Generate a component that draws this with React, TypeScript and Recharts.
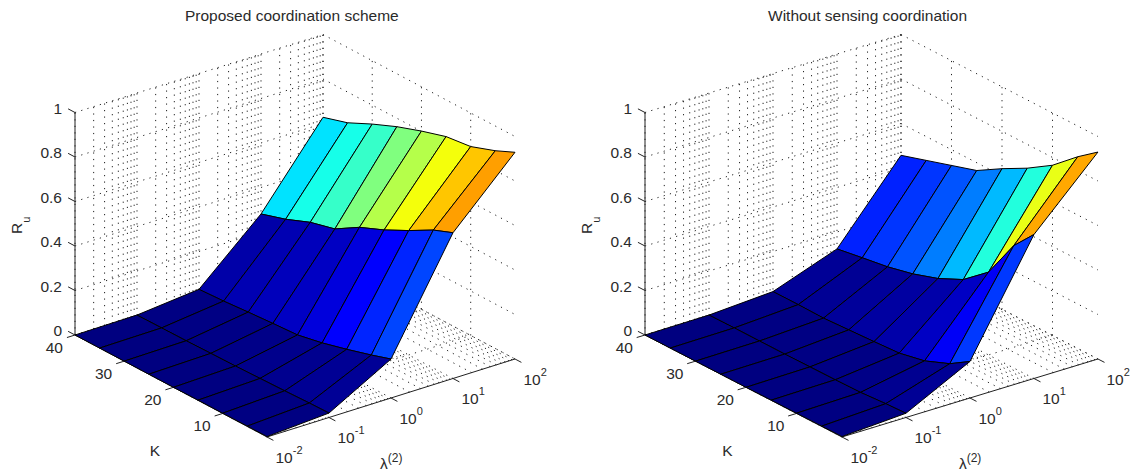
import { ScatterChart, Scatter, XAxis, YAxis, Polygon } from 'recharts';

const FONT = '"Liberation Sans", Arial, sans-serif';

// axis ticks
const lambdaExp = [-2, -1, 0, 1, 2];
const kValues = [40, 35, 30, 25, 20, 15, 10, 5, 1];
const kTicks = [40, 30, 20, 10];
const ruTicks = [0, 0.2, 0.4, 0.6, 0.8, 1];
const minorMultipliers = [2, 3, 4, 5, 6, 7, 8, 9];

// Ru per lambda decade, one value per entry of kValues
const proposedRu = [
  [0, 0, 0, 0, 0, 0.001, 0.001, 0.002, 0.002],
  [0.002, 0.003, 0.004, 0.006, 0.008, 0.011, 0.014, 0.018, 0.02],
  [0.03, 0.036, 0.045, 0.053, 0.06, 0.083, 0.113, 0.146, 0.175],
  [0.281, 0.316, 0.361, 0.39, 0.456, 0.503, 0.559, 0.62, 0.655],
  [0.628, 0.662, 0.715, 0.762, 0.801, 0.835, 0.849, 0.889, 0.929],
];

const withoutCoordRu = [
  [0, 0, 0, 0, 0, 0.001, 0.001, 0.002, 0.002],
  [0.002, 0.003, 0.003, 0.003, 0.004, 0.005, 0.007, 0.015, 0.019],
  [0.02, 0.02, 0.018, 0.024, 0.03, 0.037, 0.061, 0.107, 0.164],
  [0.124, 0.143, 0.161, 0.188, 0.226, 0.28, 0.372, 0.55, 0.647],
  [0.457, 0.493, 0.529, 0.565, 0.632, 0.693, 0.765, 0.862, 0.93],
];

// matlab jet colormap
function jet(t: number) {
  const ch = (v: number) => Math.round(255 * Math.max(0, Math.min(1, v)));
  const r = 1.5 - Math.abs(4 * t - 3);
  const g = 1.5 - Math.abs(4 * t - 2);
  const b = 1.5 - Math.abs(4 * t - 1);
  return `rgb(${ch(r)},${ch(g)},${ch(b)})`;
}

const noDot = () => <g />;

interface PanelProps {
  title: string;
  titleX: number;
  ru: number[][];
  left: number;
  width: number;
  kStep: number;
  lambdaStep: number;
}

function Panel({ title, titleX, ru, left, width, kStep, lambdaStep }: PanelProps) {
  // orthographic view, same as view(3) in the original figure
  const project = (lam: number, k: number, z: number) => ({
    x: 75 + (40 - k) * kStep + (lam + 2) * lambdaStep,
    y: 335 + (40 - k) * 2.615 - (lam + 2) * 19.5 - z * 222.5,
  });

  const lambdaGrid: number[] = [];
  lambdaExp.forEach((e) => {
    lambdaGrid.push(e);
    if (e < 2) minorMultipliers.forEach((m) => lambdaGrid.push(e + Math.log10(m)));
  });

  const dotted: { x: number; y: number }[][] = [];
  lambdaGrid.forEach((l) => {
    dotted.push([project(l, 40, 0), project(l, 40, 1)]);
    dotted.push([project(l, 1, 0), project(l, 40, 0)]);
  });
  kTicks.forEach((k) => {
    dotted.push([project(-2, k, 0), project(2, k, 0)]);
    dotted.push([project(2, k, 0), project(2, k, 1)]);
  });
  ruTicks.forEach((z) => {
    dotted.push([project(-2, 40, z), project(2, 40, z)]);
    dotted.push([project(2, 40, z), project(2, 1, z)]);
  });

  const solid = [
    [project(-2, 40, 0), project(-2, 40, 1)],
    [project(-2, 40, 0), project(-2, 1, 0)],
    [project(-2, 1, 0), project(2, 1, 0)],
    ...ruTicks.map((z) => [project(-2, 40, z), project(-2, 41.4, z)]),
    ...kTicks.map((k) => [project(-2, k, 0), project(-2.13, k, 0)]),
    ...lambdaExp.map((l) => [project(l, 1, 0), project(l, -0.3, 0)]),
  ];

  // back to front so nearer cells cover farther ones
  const colorMax = Math.max(...ru.flat()) * 0.98;
  const cells: { points: { x: number; y: number }[]; color: string }[] = [];
  for (let j = lambdaExp.length - 2; j >= 0; j--) {
    for (let i = 0; i < kValues.length - 1; i++) {
      cells.push({
        points: [
          project(lambdaExp[j], kValues[i], ru[j][i]),
          project(lambdaExp[j + 1], kValues[i], ru[j + 1][i]),
          project(lambdaExp[j + 1], kValues[i + 1], ru[j + 1][i + 1]),
          project(lambdaExp[j], kValues[i + 1], ru[j][i + 1]),
        ],
        color: jet(ru[j][i + 1] / colorMax),
      });
    }
  }

  const labelStyle = { fontFamily: FONT, fontSize: 15.5, fill: '#2a2a2a' };
  const ruLabels = ruTicks.map((z) => ({ ...project(-2, 40, z), label: String(z) }));
  const kLabels = kTicks.map((k) => ({ ...project(-2, k, 0), label: String(k) }));
  const lambdaLabels = lambdaExp.map((e) => ({ ...project(e, 1, 0), label: String(e) }));

  return (
    <div style={{ position: 'absolute', left, top: 0 }}>
      <ScatterChart width={width} height={475} margin={{ top: 0, right: 0, bottom: 0, left: 0 }}>
        <XAxis type="number" dataKey="x" domain={[0, width]} hide />
        <YAxis type="number" dataKey="y" domain={[0, 475]} reversed hide />

        {dotted.map((seg, i) => (
          <Scatter
            key={`g${i}`}
            data={seg}
            shape={noDot}
            isAnimationActive={false}
            line={{ stroke: '#222', strokeWidth: 1, strokeDasharray: '1.2 5.3' }}
          />
        ))}
        {solid.map((seg, i) => (
          <Scatter
            key={`a${i}`}
            data={seg}
            shape={noDot}
            isAnimationActive={false}
            line={{ stroke: '#222', strokeWidth: 1 }}
          />
        ))}
        {cells.map((c, i) => (
          <Scatter
            key={`c${i}`}
            data={c.points}
            shape={noDot}
            isAnimationActive={false}
            line={(p: any) => <Polygon points={p.points} fill={c.color} stroke="#000" strokeWidth={1} />}
          />
        ))}

        <Scatter
          data={ruLabels}
          isAnimationActive={false}
          shape={(p: any) => (
            <text x={p.cx - 13} y={p.cy + 1} textAnchor="end" {...labelStyle}>
              {p.payload.label}
            </text>
          )}
        />
        <Scatter
          data={kLabels}
          isAnimationActive={false}
          shape={(p: any) => (
            <text x={p.cx - 12} y={p.cy + 18} textAnchor="end" {...labelStyle}>
              {p.payload.label}
            </text>
          )}
        />
        <Scatter
          data={lambdaLabels}
          isAnimationActive={false}
          shape={(p: any) => (
            <text x={p.cx + 8.5} y={p.cy + 26} {...labelStyle}>
              10
              <tspan fontSize={11} dy={-9}>
                {p.payload.label}
              </tspan>
            </text>
          )}
        />

        <Scatter
          data={[project(-2, 20.5, 0)]}
          isAnimationActive={false}
          shape={(p: any) => (
            <text x={p.cx - 16} y={p.cy + 70} textAnchor="middle" {...labelStyle}>
              K
            </text>
          )}
        />
        <Scatter
          data={[project(0, 1, 0)]}
          isAnimationActive={false}
          shape={(p: any) => (
            <text x={p.cx - 11} y={p.cy + 71} {...labelStyle}>
              λ
              <tspan fontSize={12} dy={-7}>
                (2)
              </tspan>
            </text>
          )}
        />

        <text x={22} y={234} transform="rotate(-90 22 234)" {...labelStyle}>
          R
          <tspan fontSize={11} dy={8}>
            u
          </tspan>
        </text>
        <text x={titleX} y={21} fontFamily={FONT} fontSize={15.5} fill="#2a2a2a">
          {title}
        </text>
      </ScatterChart>
    </div>
  );
}

export default function App() {
  return (
    <div style={{ position: 'relative', width: 1133, height: 475, overflow: 'hidden' }}>
      <style>{'body{margin:0}'}</style>
      <Panel title="Proposed coordination scheme" titleX={185} ru={proposedRu} left={0} width={566} kStep={4.923} lambdaStep={62} />
      <Panel title="Without sensing coordination" titleX={198} ru={withoutCoordRu} left={570} width={563} kStep={5.05} lambdaStep={64} />
    </div>
  );
}
